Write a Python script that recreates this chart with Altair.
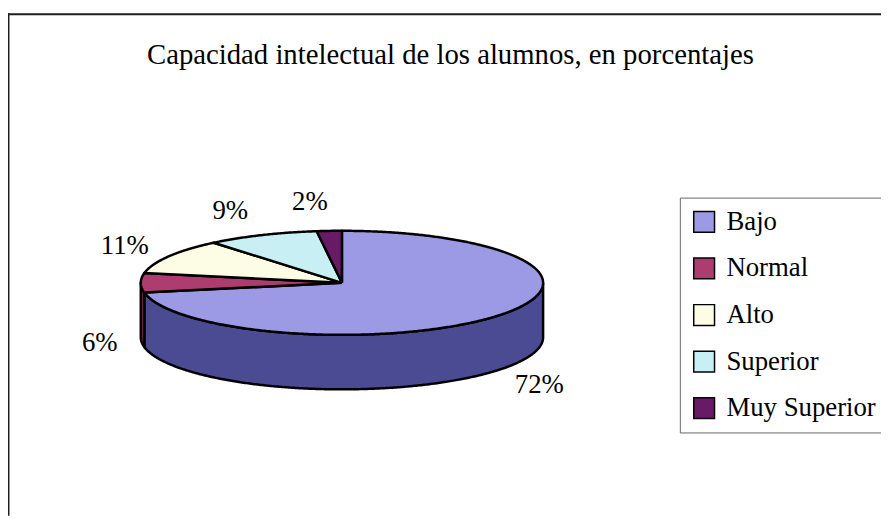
import math
import altair as alt
import pandas as pd

# ---- data ----
categories = ["Bajo", "Normal", "Alto", "Superior", "Muy Superior"]
values = [72, 6, 11, 9, 2]
value_labels = ["72%", "6%", "11%", "9%", "2%"]
top_colors = ["#9c9ae4", "#ad3d6f", "#fdfde6", "#c8eff3", "#681a66"]
side_colors = ["#4b4b94", "#6b2444", "#a3a386", "#7da0a4", "#3f0c3d"]
title_text = "Capacidad intelectual de los alumnos, en porcentajes"

# ---- layout (chart pixel space) ----
W, H = 881, 510
CX, CY = 337, 275          # centre of the top face of the pie
RX, RY, DEPTH = 203, 52.5, 55
LAX, LAY, LROT = 245, 82, -4.0   # label ellipse and angular shift
FONT = "'Liberation Serif', 'Times New Roman', Times, serif"

total = sum(values)
starts, acc = [], 0
for v in values:
    starts.append(acc / total * 360.0)
    acc += v
ends = starts[1:] + [360.0]


def ell(t, dy=0.0):
    r = math.radians(t)
    return CX + RX * math.sin(r), CY - RY * math.cos(r) + dy


def arc(a, b, dy=0.0, step=0.5):
    n = max(2, int(math.ceil((b - a) / step)) + 1)
    return [ell(a + (b - a) * i / (n - 1), dy) for i in range(n)]


top_rows, side_rows, label_rows = [], [], []
for i, cat in enumerate(categories):
    a, b = starts[i], ends[i]
    pts = [(CX, CY)] + arc(a, b) + [(CX, CY)]
    for k, (x, y) in enumerate(pts):
        top_rows.append(dict(pid=cat, k=k, x=x, y=y, fillc=top_colors[i]))
    lo, hi = max(a, 90.0), min(b, 270.0)
    if hi > lo:
        spts = arc(lo, hi) + arc(lo, hi, DEPTH)[::-1]
        spts.append(spts[0])
        for k, (x, y) in enumerate(spts):
            side_rows.append(dict(pid=cat, k=k, x=x, y=y, fillc=side_colors[i]))
    m = math.radians((a + b) / 2 + LROT)
    front = DEPTH if math.cos(m) <= 0 else 0.0
    label_rows.append(dict(
        lab=value_labels[i],
        x=CX + LAX * math.sin(m),
        y=CY - LAY * math.cos(m) + front,
    ))

top_df = pd.DataFrame(top_rows)
side_df = pd.DataFrame(side_rows)
label_df = pd.DataFrame(label_rows)
legend_df = pd.DataFrame({"cat": categories, "x": [CX] * 5, "y": [CY] * 5})

xs = alt.Scale(domain=[0, W], nice=False, zero=False)
ys = alt.Scale(domain=[H, 0], nice=False, zero=False)
X = alt.X("x:Q", scale=xs, axis=None)
Y = alt.Y("y:Q", scale=ys, axis=None)

one = pd.DataFrame({"a": [0]})
frame_top = alt.Chart(one).mark_rule(color="#1e1e1e", strokeWidth=2).encode(
    x=alt.value(0), x2=alt.value(W), y=alt.value(4)
)
frame_left = alt.Chart(one).mark_rule(color="#1e1e1e", strokeWidth=2).encode(
    x=alt.value(0.5), y=alt.value(3), y2=alt.value(H)
)

sides = alt.Chart(side_df).mark_line(
    filled=True, stroke="black", strokeWidth=2.5, strokeJoin="round"
).encode(
    x=X, y=Y, detail="pid:N", order="k:Q", fill=alt.Fill("fillc:N", scale=None)
)

legend_layer = alt.Chart(legend_df).mark_square(size=1, stroke="black").encode(
    x=X, y=Y,
    color=alt.Color(
        "cat:N",
        scale=alt.Scale(domain=categories, range=top_colors),
        sort=None,
        legend=alt.Legend(
            title=None, orient="none", legendX=678, legendY=189,
            symbolType="square", symbolSize=441, symbolStrokeColor="black",
            symbolStrokeWidth=1.5, symbolOpacity=1,
            labelFont=FONT, labelFontSize=27, labelColor="black", labelLimit=0,
            labelOffset=9, rowPadding=19, padding=11,
            strokeColor="#666666", fillColor="white",
        ),
    ),
)

tops = alt.Chart(top_df).mark_line(
    filled=True, stroke="black", strokeWidth=2.5, strokeJoin="round"
).encode(
    x=X, y=Y, detail="pid:N", order="k:Q", fill=alt.Fill("fillc:N", scale=None)
)

labels = alt.Chart(label_df).mark_text(
    font=FONT, fontSize=27, color="black", align="center", baseline="middle"
).encode(x=X, y=Y, text="lab:N")

title = alt.Chart(pd.DataFrame({"t": [title_text]})).mark_text(
    font=FONT, fontSize=29, color="black", align="center", baseline="alphabetic"
).encode(x=alt.value(446.5), y=alt.value(54), text="t:N")

chart = alt.layer(
    frame_top, frame_left, sides, legend_layer, tops, labels, title
).properties(
    width=W, height=H, padding=0,
    autosize=alt.AutoSizeParams(type="none"),
    background="white",
).configure_view(stroke=None)

chart.save("out.html", embed_options={"renderer": "svg", "actions": False})
